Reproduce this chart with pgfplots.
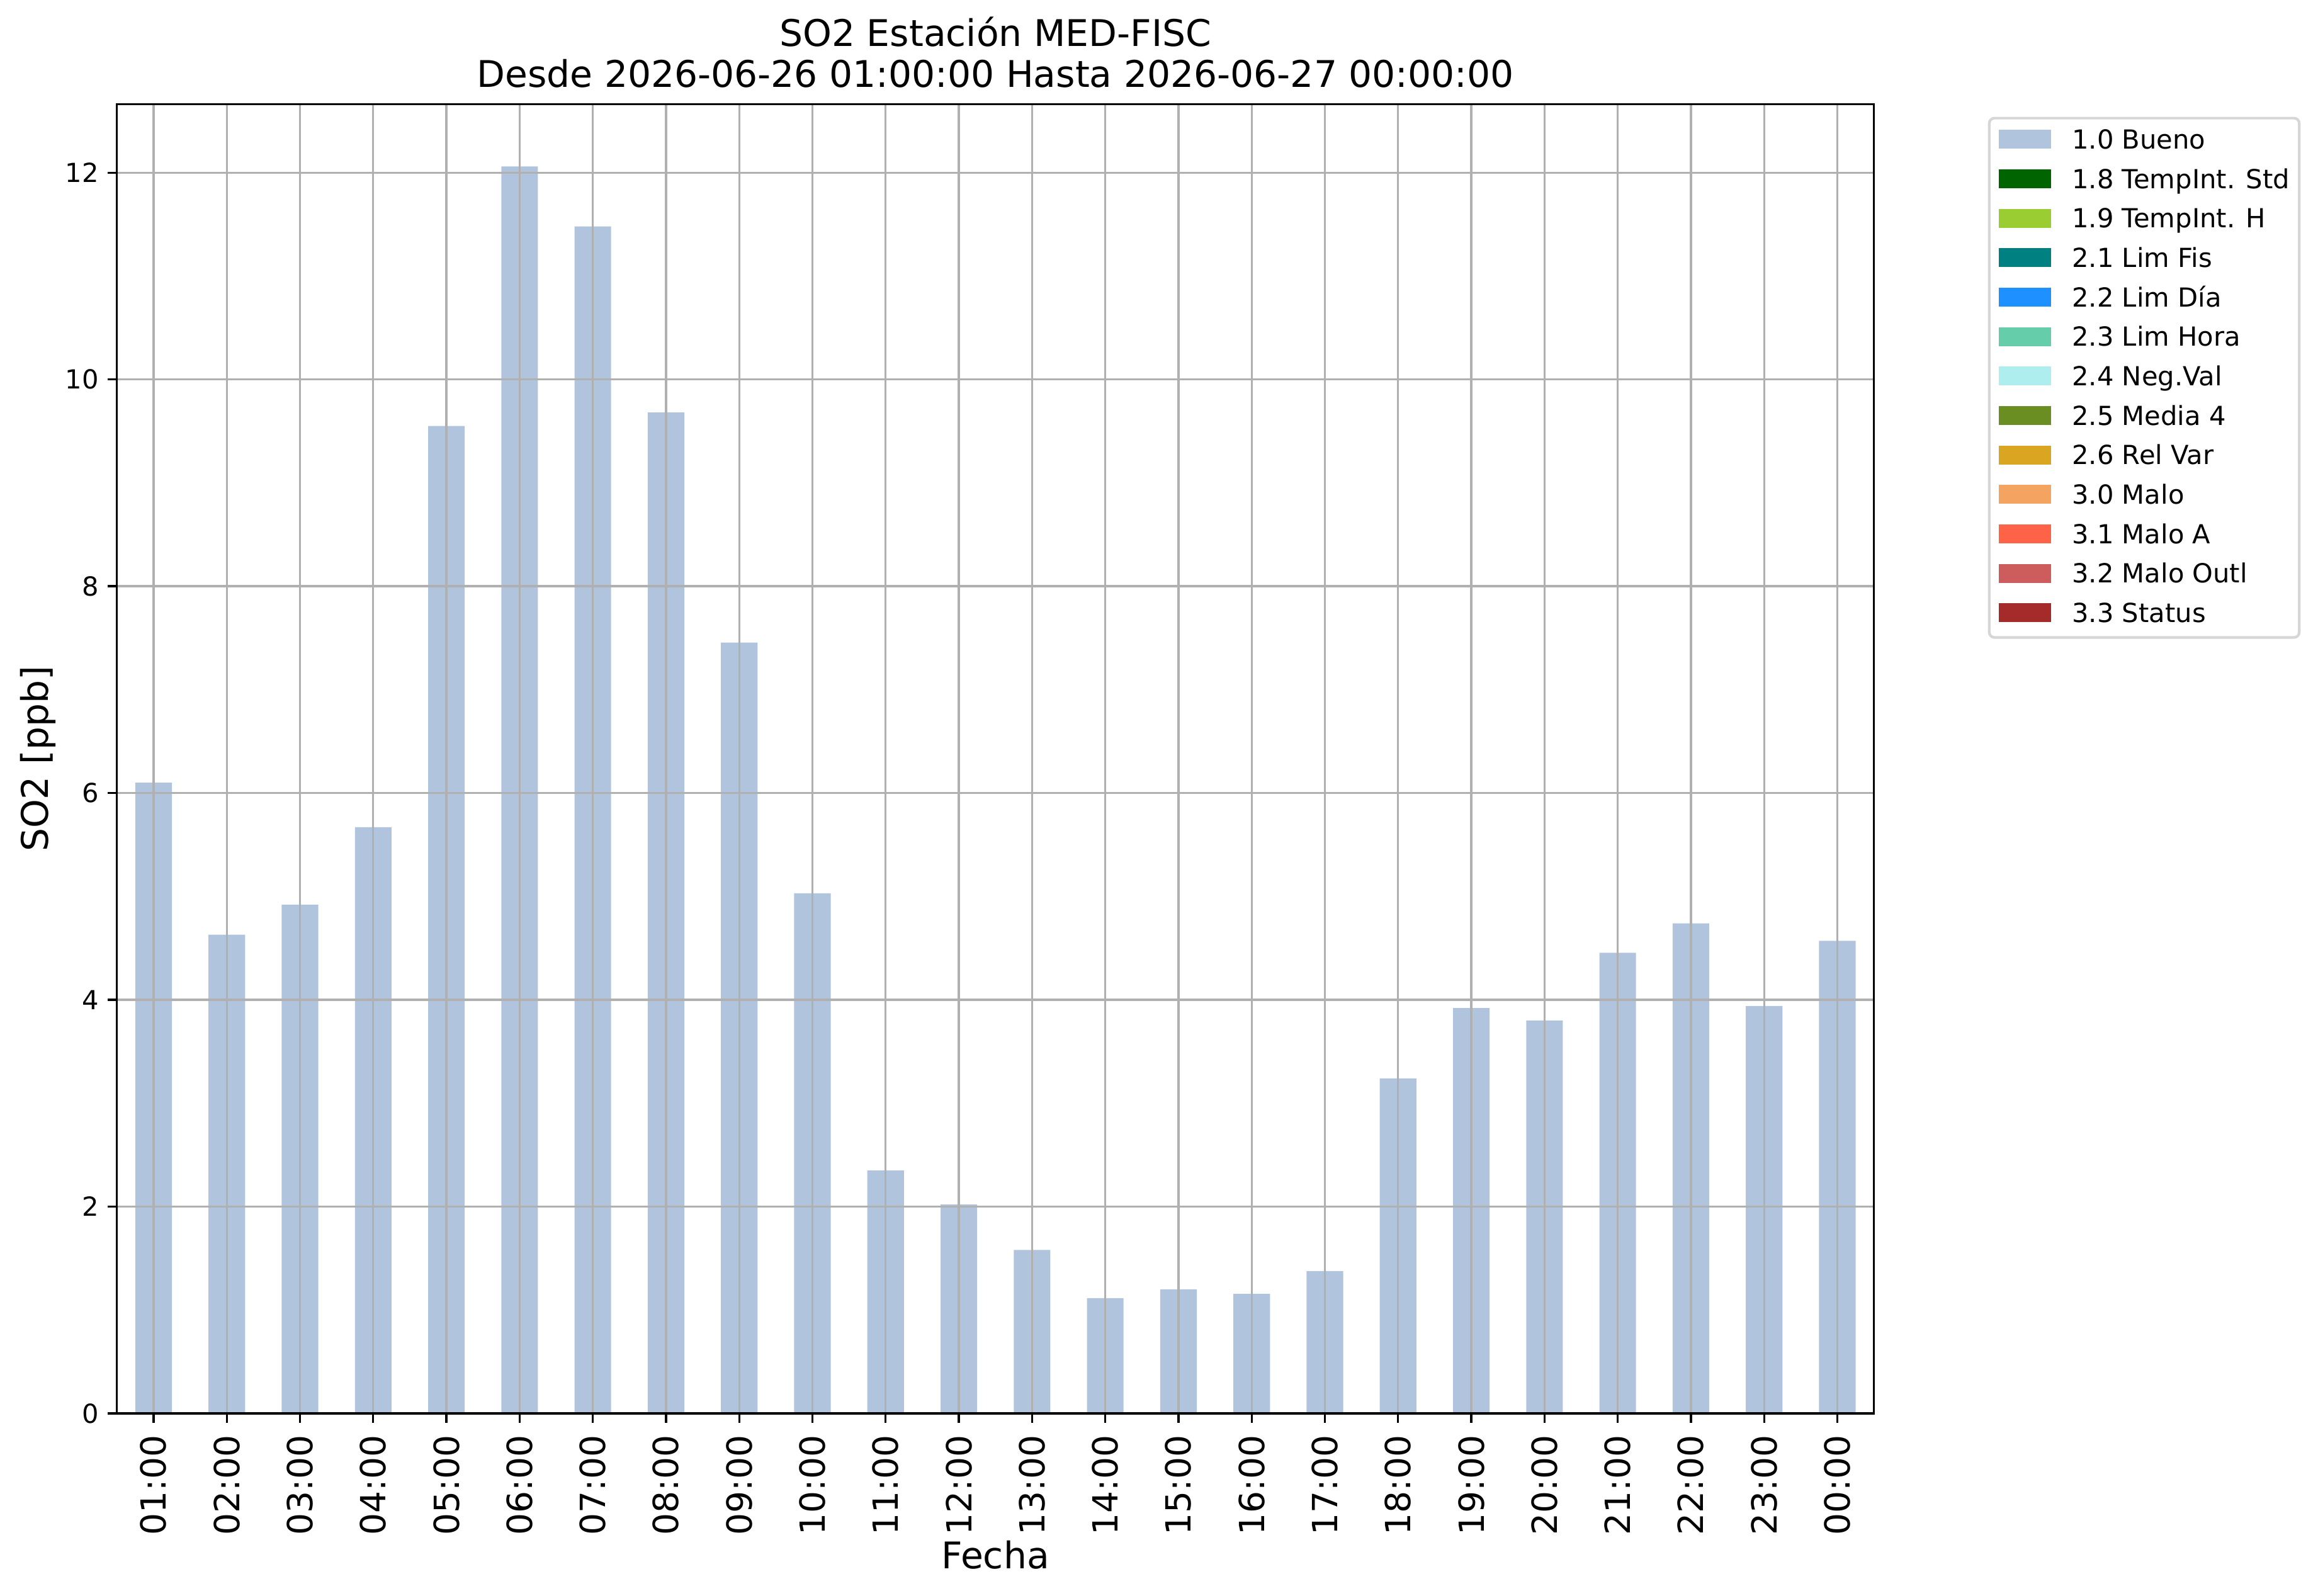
\documentclass[border=0pt]{standalone}
\usepackage{fontspec}
\setmainfont{DejaVu Sans}
\usepackage{pgfplots}
\pgfplotsset{compat=1.18}
\definecolor{bueno}{HTML}{B0C4DE}
\definecolor{cdarkgreen}{HTML}{006400}
\definecolor{cyellowgreen}{HTML}{9ACD32}
\definecolor{cteal}{HTML}{008080}
\definecolor{cdodger}{HTML}{1E90FF}
\definecolor{caqua}{HTML}{66CDAA}
\definecolor{cpaleturq}{HTML}{AFEEEE}
\definecolor{colive}{HTML}{6B8E23}
\definecolor{cgold}{HTML}{DAA520}
\definecolor{csandy}{HTML}{F4A460}
\definecolor{ctomato}{HTML}{FF6347}
\definecolor{cindian}{HTML}{CD5C5C}
\definecolor{cbrown}{HTML}{A52A2A}
\definecolor{gridgray}{HTML}{B0B0B0}
\definecolor{leggray}{HTML}{D6D6D6}
\pgfplotsset{
  legend image code/.code={\fill[#1,draw=none,sharp corners] (0pt,-2.9pt) rectangle (20pt,4.3pt);}
}
\begin{document}
\begin{tikzpicture}
\useasboundingbox (0,0) rectangle (883.7pt,608.2pt);
\begin{axis}[
  at={(44.6pt,69.4pt)}, anchor=south west,
  scale only axis, width=669.8pt, height=499pt,
  xmin=-0.5, xmax=23.5, ymin=0, ymax=12.66,
  xtick={0,...,23},
  xticklabels={01:00,02:00,03:00,04:00,05:00,06:00,07:00,08:00,09:00,10:00,11:00,12:00,13:00,14:00,15:00,16:00,17:00,18:00,19:00,20:00,21:00,22:00,23:00,00:00},
  ytick={0,2,4,6,8,10,12},
  minor tick num=0,
  xtick pos=bottom, ytick pos=left,
  grid=major,
  major grid style={color=gridgray, line width=0.8pt},
  axis on top,
  axis line style={black, line width=0.8pt},
  tick align=outside, major tick length=3.5pt,
  every tick/.style={black, line width=0.8pt},
  /pgf/number format/assume math mode=true,
  yticklabel style={font=\fontsize{10}{12}\selectfont},
  xticklabel style={font=\fontsize{13.2}{15.8}\selectfont, rotate=90, anchor=east, inner xsep=4.7pt},
  every axis title/.style={at={(0.5,1)}, anchor=south, yshift=6.2pt, align=center, inner sep=0pt, font=\fontsize{14}{15.6}\selectfont},
  title={SO2 Estación MED-FISC\\Desde 2026-06-26 01:00:00 Hasta 2026-06-27 00:00:00},
  every axis x label/.style={at={(axis description cs:0.5,-0.1188)}, anchor=base, inner sep=0pt, font=\fontsize{14}{16.8}\selectfont},
  every axis y label/.style={at={(axis description cs:-0.039,0.5)}, rotate=90, anchor=base, inner sep=0pt, font=\fontsize{14}{16.8}\selectfont},
  xlabel={Fecha},
  ylabel={SO2 [ppb]},
  legend cell align=left,
  legend style={at={(1.0649,0.9905)}, anchor=north west, draw=leggray, line width=1pt, rounded corners=2pt, fill=white,
    inner xsep=3.6pt, inner ysep=4.4pt, row sep=6.35pt, column sep=8pt,
    font=\fontsize{10}{12}\selectfont,
    nodes={inner sep=0pt, text height=7.3pt, text depth=1.39pt}},
]
\addplot[ybar, bar width=0.5, fill=bueno, draw=none, forget plot] coordinates {
(0,6.10) (1,4.63) (2,4.92) (3,5.67) (4,9.55) (5,12.06) (6,11.48) (7,9.68)
(8,7.455) (9,5.03) (10,2.35) (11,2.02) (12,1.58) (13,1.115) (14,1.20) (15,1.156)
(16,1.377) (17,3.24) (18,3.92) (19,3.80) (20,4.455) (21,4.74) (22,3.94) (23,4.57)
};
\addlegendimage{fill=bueno}\addlegendentry{1.0 Bueno}
\addlegendimage{fill=cdarkgreen}\addlegendentry{1.8 TempInt. Std}
\addlegendimage{fill=cyellowgreen}\addlegendentry{1.9 TempInt. H}
\addlegendimage{fill=cteal}\addlegendentry{2.1 Lim Fis}
\addlegendimage{fill=cdodger}\addlegendentry{2.2 Lim Día}
\addlegendimage{fill=caqua}\addlegendentry{2.3 Lim Hora}
\addlegendimage{fill=cpaleturq}\addlegendentry{2.4 Neg.Val}
\addlegendimage{fill=colive}\addlegendentry{2.5 Media 4}
\addlegendimage{fill=cgold}\addlegendentry{2.6 Rel Var}
\addlegendimage{fill=csandy}\addlegendentry{3.0 Malo}
\addlegendimage{fill=ctomato}\addlegendentry{3.1 Malo A}
\addlegendimage{fill=cindian}\addlegendentry{3.2 Malo Outl}
\addlegendimage{fill=cbrown}\addlegendentry{3.3 Status}
\end{axis}
\end{tikzpicture}
\end{document}
